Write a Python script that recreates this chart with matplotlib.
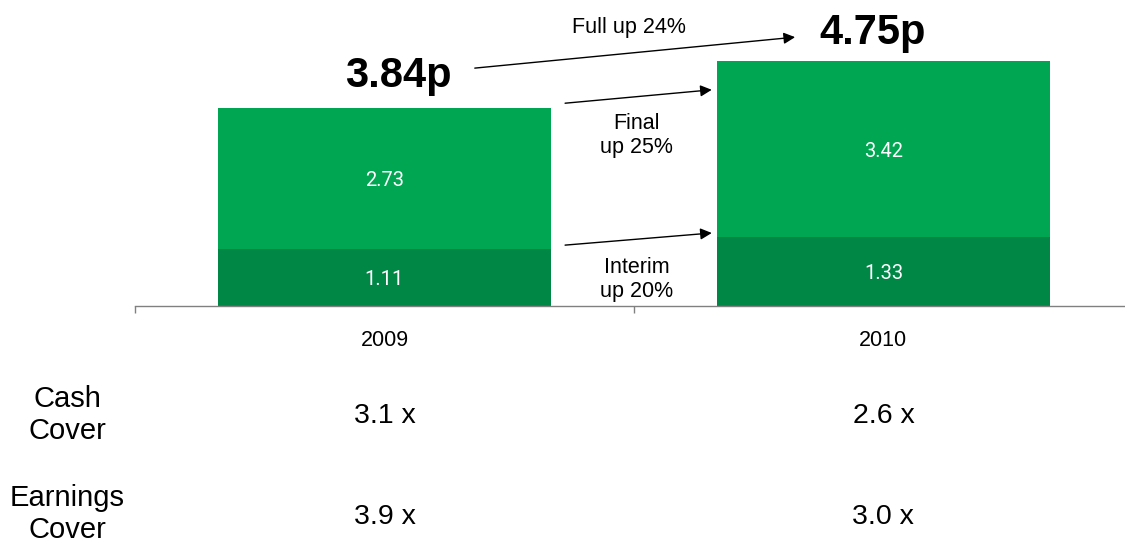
import matplotlib
matplotlib.use("Agg")
import matplotlib.pyplot as plt
from matplotlib.transforms import blended_transform_factory

plt.rcParams['font.family'] = ['Liberation Sans', 'DejaVu Sans']

# ---- dividend per share (pence) ----
years = ["2009", "2010"]
interim = [1.11, 1.33]
final = [2.73, 3.42]
totals = ["3.84p", "4.75p"]

# ---- growth callouts ----
full_growth = "Full up 24%"
final_growth = "Final\nup 25%"
interim_growth = "Interim\nup 20%"

# ---- cover ratios below the chart ----
cover_rows = ["Cash\nCover", "Earnings\nCover"]
cash_cover = ["3.1 x", "2.6 x"]
earnings_cover = ["3.9 x", "3.0 x"]

LIGHT = "#00a651"
DARK = "#008746"

fig = plt.figure(figsize=(11.25, 5.45), dpi=100)
ax = fig.add_axes([0.12, 0.4385, 0.887, 0.5615])

x = [0.5, 1.5]
width = 0.667
ax.bar(x, interim, width=width, color=DARK, zorder=2)
ax.bar(x, final, width=width, bottom=interim, color=LIGHT, zorder=2)

# segment values
for xi, lo, hi in zip(x, interim, final):
    ax.text(xi, lo / 2, f"{lo:.2f}", ha="center", va="center_baseline",
            color="white", fontsize=14.5, family=["Roboto", "DejaVu Sans"])
    ax.text(xi, lo + hi / 2, f"{hi:.2f}", ha="center", va="center_baseline",
            color="white", fontsize=14.5, family=["Roboto", "DejaVu Sans"])

# totals above the bars
ax.text(0.528, 4.46, totals[0], ha="center", va="center",
        fontsize=30, fontweight="bold")
ax.text(1.479, 5.29, totals[1], ha="center", va="center",
        fontsize=30, fontweight="bold")

# growth arrows
arrow = dict(arrowstyle="-|>", color="black", lw=1.0, mutation_scale=17,
             shrinkA=0, shrinkB=0)
ax.annotate("", xy=(1.323, 5.21), xytext=(0.681, 4.61), arrowprops=arrow)
ax.annotate("", xy=(1.156, 4.19), xytext=(0.862, 3.93), arrowprops=arrow)
ax.annotate("", xy=(1.156, 1.415), xytext=(0.862, 1.18), arrowprops=arrow)

ax.text(0.990, 5.40, full_growth, ha="center", va="center", fontsize=15.5)
ax.text(1.006, 3.31, final_growth, ha="center", va="center", fontsize=15.5)
ax.text(1.006, 0.52, interim_growth, ha="center", va="center", fontsize=15.5)

ax.set_xlim(0, 2)
ax.set_ylim(0, 5.93)

for side in ["top", "right", "left"]:
    ax.spines[side].set_visible(False)
ax.spines["bottom"].set_color("#808080")
ax.spines["bottom"].set_linewidth(1.0)
ax.set_yticks([])

ax.set_xticks([0, 1, 2])
ax.set_xticklabels([])
ax.tick_params(axis="x", which="major", direction="out", length=5,
               color="#808080", width=1.0)
ax.set_xticks(x, minor=True)
ax.set_xticklabels(years, minor=True, fontsize=15.5)
ax.tick_params(axis="x", which="minor", length=0, pad=17.5)

# cover table under the axis
tr = blended_transform_factory(ax.transData, fig.transFigure)
row_y = [1 - 415 / 545, 1 - 514 / 545]
for label, yy in zip(cover_rows, row_y):
    fig.text(0.06, yy, label, ha="center", va="center", fontsize=21)
for xi, c, e in zip(x, cash_cover, earnings_cover):
    ax.text(xi, 1 - 416 / 545, c, transform=tr, ha="center", va="center",
            fontsize=20.5)
    ax.text(xi, 1 - 517 / 545, e, transform=tr, ha="center", va="center",
            fontsize=20.5)

fig.savefig("out.png", dpi=100)
